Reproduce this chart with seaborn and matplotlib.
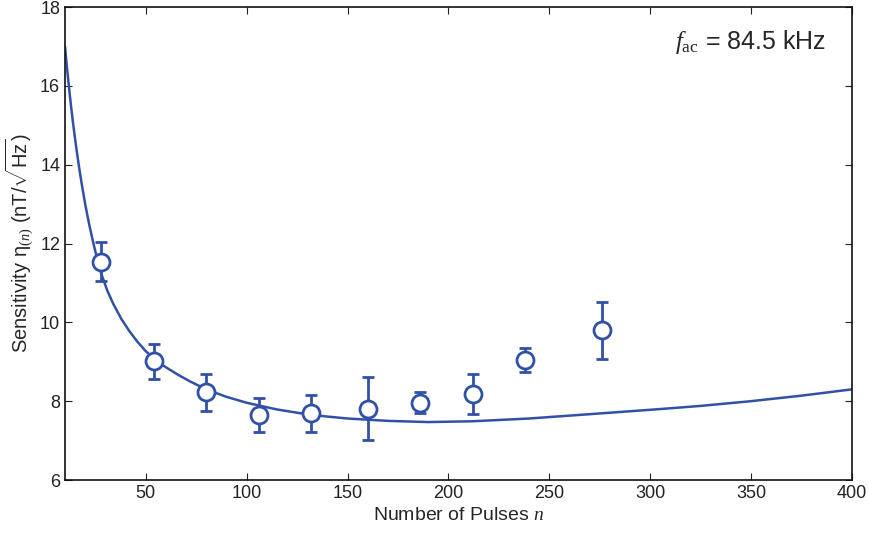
#!/usr/bin/env python3
"""
Sensitivity vs number of pulses (f_ac = 84.5 kHz)
"""

import numpy as np
import pandas as pd
import matplotlib
matplotlib.use('Agg')  # Non-interactive backend
import matplotlib.pyplot as plt
import seaborn as sns

# Measured points
pulses = [28, 54, 80, 106, 132, 160, 186, 212, 238, 276]
sensitivity = [11.53, 9.02, 8.23, 7.65, 7.70, 7.80, 7.96, 8.18, 9.04, 9.81]
err_low = [0.48, 0.46, 0.48, 0.43, 0.48, 0.78, 0.26, 0.50, 0.30, 0.74]
err_high = [0.51, 0.43, 0.46, 0.43, 0.46, 0.81, 0.27, 0.51, 0.31, 0.71]

# Fitted curve
fit_n = [10, 11, 12, 13, 14, 15, 16, 17, 18, 20, 22, 24, 26, 28, 31, 34,
         38, 42, 46, 50, 55, 60, 66, 72, 80, 90, 100, 115, 132, 150, 170,
         190, 212, 240, 270, 305, 325, 350, 375, 400]
fit_eta = [17.0, 16.45, 15.95, 15.48, 15.05, 14.65, 14.28, 13.93, 13.6,
           13.0, 12.48, 12.02, 11.6, 11.23, 10.8, 10.46, 10.08, 9.77, 9.5,
           9.27, 9.04, 8.86, 8.67, 8.50, 8.30, 8.11, 7.96, 7.79, 7.65,
           7.56, 7.50, 7.47, 7.49, 7.56, 7.67, 7.80, 7.88, 8.00, 8.14, 8.30]

BLUE = '#3151a6'

sns.set_style("ticks")
plt.rcParams['font.family'] = ['Liberation Sans', 'DejaVu Sans']
plt.rcParams['mathtext.fontset'] = 'custom'
plt.rcParams['mathtext.rm'] = 'Liberation Serif'
plt.rcParams['mathtext.it'] = 'Liberation Serif:italic'
plt.rcParams['mathtext.sf'] = 'Liberation Sans'

fig = plt.figure(figsize=(8.69, 5.35), dpi=100)
ax = fig.add_axes([0.0748, 0.1028, 0.9056, 0.8841])

fit_df = pd.DataFrame({'n': fit_n, 'eta': fit_eta})
sns.lineplot(data=fit_df, x='n', y='eta', ax=ax, color=BLUE, lw=1.8,
             sort=False, zorder=2)

ax.errorbar(pulses, sensitivity, yerr=[err_low, err_high], fmt='none',
            ecolor=BLUE, elinewidth=2, capsize=4.5, capthick=2, zorder=3)
pts = pd.DataFrame({'n': pulses, 'eta': sensitivity})
sns.scatterplot(data=pts, x='n', y='eta', ax=ax, s=150, marker='o',
                facecolor='white', edgecolor=BLUE, linewidth=2, zorder=4)

ax.set_xlim(10, 400)
ax.set_ylim(6, 18)
ax.set_xticks(np.arange(50, 401, 50))
ax.set_yticks(np.arange(6, 19, 2))
ax.tick_params(direction='in', length=5, width=0.8, top=True, right=True,
               labelsize=13, colors='#222222')
for side in ax.spines.values():
    side.set_linewidth(1.2)
    side.set_color('#111111')

ax.set_xlabel(r'Number of Pulses $n$', fontsize=14, labelpad=4)
ax.set_ylabel(r'Sensitivity $\mathsf{\eta}_{(n)}$ (nT/$\sqrt{\mathsf{Hz}}$)',
              fontsize=14.5, labelpad=3)
ax.text(0.967, 0.926, r'$f_{\mathrm{ac}}$ = 84.5 kHz', transform=ax.transAxes,
        ha='right', va='center', fontsize=18)

plt.savefig('out.png', dpi=100)
plt.close()
